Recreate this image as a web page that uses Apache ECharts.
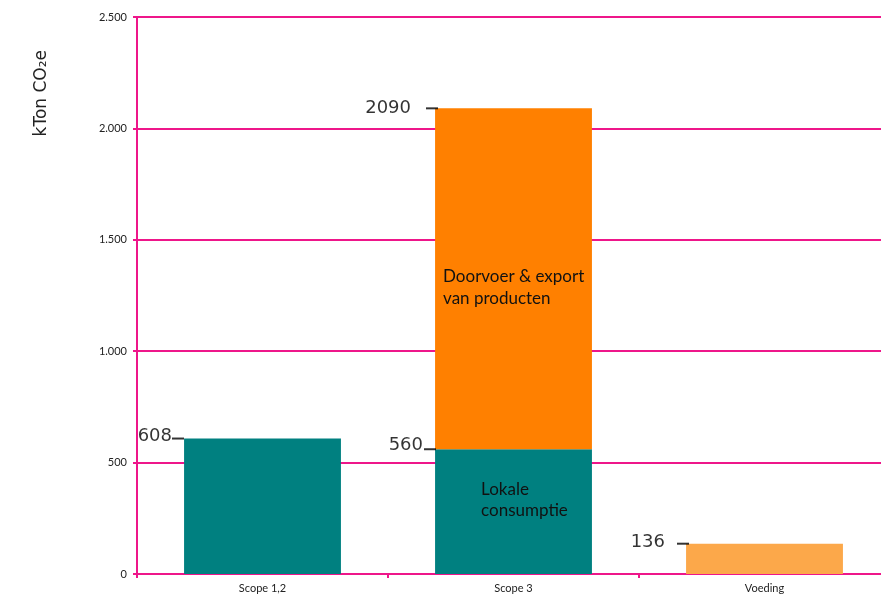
<!DOCTYPE html>
<html><head><meta charset="utf-8">
<script src="https://cdn.jsdelivr.net/npm/echarts@6/dist/echarts.min.js"></script>
<style>html,body{margin:0;padding:0;background:#fff;overflow:hidden}#c{width:892px;height:596px}</style>
</head><body><div id="c"></div>
<script>
const categories = ['Scope 1,2', 'Scope 3', 'Voeding'];
const lokale = [608, 560, null];
const doorvoer = [null, 1530, null];
const voeding = [null, null, 136];
const annCats = [0, 1, 1, 2];
const annValues = [608, 2090, 560, 136];
const yTicks = [0, 500, 1000, 1500, 2000, 2500];
const innerLokale = 'Lokale\nconsumptie';
const innerDoorvoer = 'Doorvoer & export\nvan producten';

const MAG = '#EE168A';
const annGap = [0, 15, 1, 12];
const annShift = [2, 0, 4, 1];
const annDashIn = [0, 3, 1, 3];

const chart = echarts.init(document.getElementById('c'));
const fmt = v => String(v).replace(/\B(?=(\d{3})+(?!\d))/g, '.');
chart.setOption({
  animation: false,
  grid: {left: 137, top: 17, width: 753, height: 557, containLabel: false},
  xAxis: {
    type: 'category', data: categories,
    axisLine: {lineStyle: {color: MAG, width: 2}},
    axisTick: {show: true, length: 4, lineStyle: {color: MAG, width: 2}},
    axisLabel: {color: '#222', fontFamily: 'Lato', fontSize: 11, margin: 9}
  },
  yAxis: {
    type: 'value', min: yTicks[0], max: yTicks[yTicks.length - 1], interval: yTicks[1] - yTicks[0],
    axisLine: {show: true, lineStyle: {color: MAG, width: 2}},
    axisTick: {show: true, length: 4, lineStyle: {color: MAG, width: 2}},
    splitLine: {lineStyle: {color: MAG, width: 2}},
    axisLabel: {color: '#222', fontFamily: 'Lato', fontSize: 11, margin: 10, formatter: fmt}
  },
  graphic: [{
    type: 'text', left: 33, top: 50, rotation: Math.PI / 2,
    style: {text: 'kTon CO₂e', font: '17px "DejaVu Sans"', fill: '#222'}
  }],
  series: [
    {
      type: 'bar', stack: 's', barWidth: '62.5%', name: 'Lokale',
      itemStyle: {color: '#008080'},
      data: lokale.map((v, i) => (v == null ? '-' : {
        value: v,
        label: i === 1 ? {show: true, formatter: innerLokale, position: [46, 30], fontFamily: 'Lato', fontSize: 17, lineHeight: 21, color: '#111'} : {show: false}
      }))
    },
    {
      type: 'bar', stack: 's', barWidth: '62.5%', name: 'Doorvoer',
      itemStyle: {color: '#FF8000'},
      data: doorvoer.map((v, i) => (v == null ? '-' : {
        value: v,
        label: {show: true, formatter: innerDoorvoer, position: [8, 157], fontFamily: 'Lato', fontSize: 17, lineHeight: 22, color: '#111'}
      }))
    },
    {
      type: 'bar', stack: 's', barWidth: '62.5%', name: 'Voeding',
      itemStyle: {color: '#FCA84A'},
      data: voeding.map(v => (v == null ? '-' : v))
    },
    {
      type: 'scatter', symbol: 'rect', symbolSize: [157, 1], z: 5,
      itemStyle: {color: 'rgba(0,0,0,0)'},
      data: annCats.map((c, i) => ({
        value: [c, annValues[i]],
        label: {
          show: true, position: 'left', distance: -annDashIn[i],
          formatter: '{t|' + annValues[i] + '}{g|}{d|}',
          rich: {
            t: {fontFamily: 'DejaVu Sans', fontSize: 18, color: '#000', padding: [0, 0, annShift[i] * 2, 0]},
            g: {width: annGap[i]},
            d: {width: 12, height: 2, backgroundColor: '#000'}
          }
        }
      }))
    }
  ]
});
</script></body></html>
